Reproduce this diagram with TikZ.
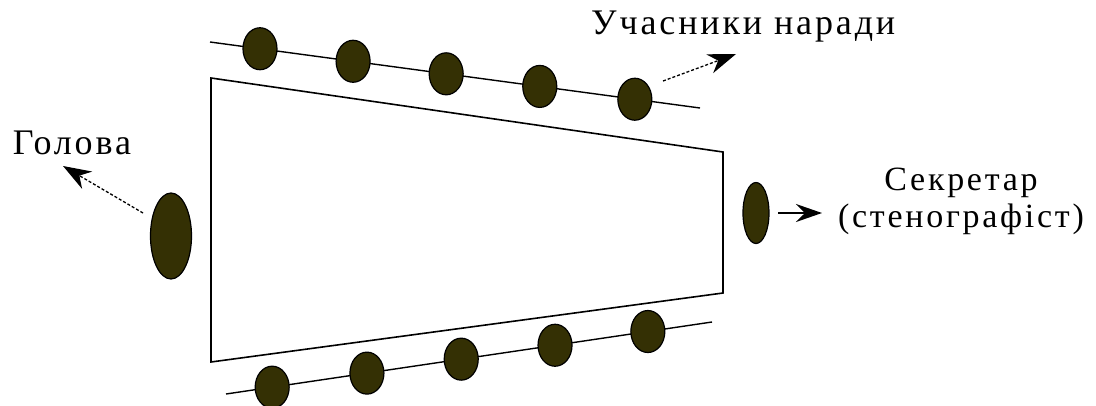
\documentclass[tikz,border=0pt]{standalone}
\usepackage{fontspec}
\setmainfont{Liberation Serif}[LetterSpace=8]
\usetikzlibrary{shapes.geometric,arrows.meta}
\definecolor{dotfill}{RGB}{52,48,4}
\tikzset{
  dot/.style={ellipse, draw=black, line width=1.2pt, fill=dotfill, inner sep=0pt, minimum width=34pt, minimum height=42pt},
  rowline/.style={line width=1.4pt},
  hall/.style={line width=1.6pt},
  lbl/.style={inner sep=0pt, font=\fontsize{36}{40}\selectfont},
  lblsm/.style={inner sep=0pt, align=center, font=\fontsize{34}{37}\selectfont},
  ptr/.style={line width=1.3pt, densely dashed, -{Stealth[length=28pt,width=20pt,inset=9pt]}},
  ptrs/.style={line width=2pt, -{Stealth[length=26pt,width=18pt,inset=9pt]}}
}
\begin{document}
\begin{tikzpicture}[x=1pt,y=-1pt]
\useasboundingbox (0,0) rectangle (1096,405);
% hall outline
\draw[hall] (211,78) coordinate (h1) -- (723,152) coordinate (h2) -- (723,293) coordinate (h3) -- (211,362) coordinate (h4) -- cycle;
% top row
\coordinate (t0) at (210,42);
\coordinate (t1) at (700,108);
\draw[rowline] (t0) -- (t1);
\path (t0) -- (t1)
  node[dot, pos=0.102] (p1) {}
  node[dot, pos=0.292] (p2) {}
  node[dot, pos=0.482] (p3) {}
  node[dot, pos=0.673] (p4) {}
  node[dot, pos=0.867] (p5) {};
% bottom row
\coordinate (b0) at (226,394);
\coordinate (b1) at (712,322);
\draw[rowline] (b0) -- (b1);
\path (b0) -- (b1)
  node[dot, pos=0.095] (q1) {}
  node[dot, pos=0.290] (q2) {}
  node[dot, pos=0.484] (q3) {}
  node[dot, pos=0.677] (q4) {}
  node[dot, pos=0.868] (q5) {};
% chairman
\node[dot, minimum width=41pt, minimum height=86pt] (chair) at (171,236) {};
\node[lbl] (chairlbl) at (72,143) {Голова};
\coordinate (chairstart) at (143,213);
\coordinate (chairtip) at (63,166);
\draw[ptr] (chairstart) -- (chairtip);
% secretary
\node[dot, minimum width=26pt, minimum height=61pt] (sec) at (756,213) {};
\node[lblsm] (seclbl) at (961,201) {Секретар\\(стенографіст)};
\coordinate (secstart) at (778,213);
\coordinate (sectip) at (822,213);
\draw[ptrs] (secstart) -- (sectip);
% participants
\node[lbl, anchor=west] (partlbl) at (591,27) {Учасники наради};
\coordinate (partstart) at (663,81);
\coordinate (parttip) at (736,54);
\draw[ptr] (partstart) -- (parttip);
\end{tikzpicture}
\end{document}
